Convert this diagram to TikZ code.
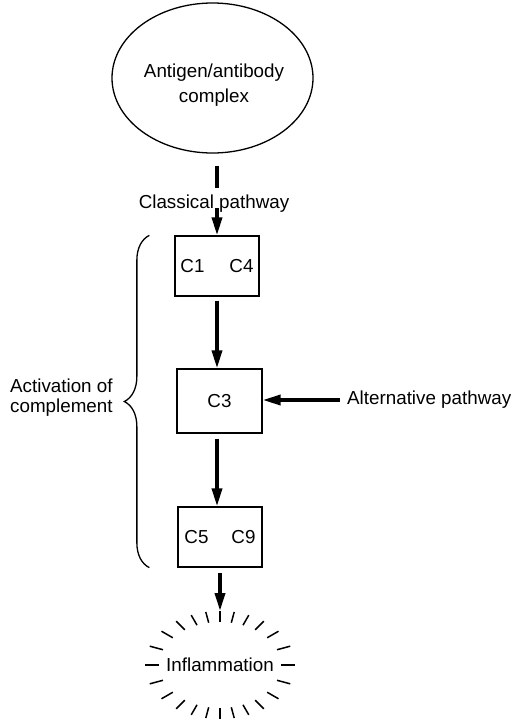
\documentclass[tikz,border=0pt]{standalone}
\usepackage{fontspec}
\setmainfont{Liberation Sans}
\usetikzlibrary{arrows.meta}
\usetikzlibrary{shapes.geometric}
\usetikzlibrary{decorations.pathreplacing}
\tikzset{>={Triangle[length = 18pt, width = 10pt]}}
\tikzstyle{stage} = [draw, line width = 1.3pt, minimum width = 84pt, minimum height = 60pt, inner sep = 0]
\tikzstyle{flow} = [->, line width = 3.5pt]
\tikzstyle{lbl} = [draw = none, inner sep = 0]
\tikzstyle{halo} = [ellipse, draw = none, inner sep = 0, outer sep = 0]

\begin{document}
\begin{tikzpicture}[x = 1pt, y = -1pt, font = \fontsize{18.8}{24.5}\selectfont]
\useasboundingbox (0, 0) rectangle (512, 721);
\node [ellipse, draw, line width = 1.3pt, minimum width = 201pt, minimum height = 150pt, inner sep = 0] (agab) at (212.5, 78) {};
\node [lbl, align = center] (agabtext) at (214, 85) {Antigen/antibody\\complex};
\node [lbl, text depth = 0pt, anchor = base] (classical) at (214, 208) {Classical pathway};
\node [stage] (c14) at (217, 266) {C1\hspace{25pt}C4};
\node [stage, minimum width = 85pt, minimum height = 64pt] (c3) at (219.5, 401) {C3};
\node [stage] (c59) at (220, 537) {C5\hspace{23pt}C9};
\node [lbl, anchor = west] (alt) at (347, 400) {Alternative pathway};
\node [lbl, anchor = west, align = left, font = \fontsize{18.8}{20}\selectfont] (activation) at (10, 398) {Activation of\\complement};
\node [halo, minimum width = 122pt, minimum height = 86pt] (infl) at (220, 665) {};
\node [halo, minimum width = 150pt, minimum height = 108pt] (inflout) at (infl.center) {};
\node [lbl] (infltext) at (infl.center) {Inflammation};
% classical pathway
\draw [line width = 3.5pt, shorten <= 12pt, shorten >= 6pt] (agab.south -| c14.north) -- (classical.north -| c14.north);
\draw [flow] (classical.south -| c14.north) -- (c14.north);
% cascade
\draw [flow, shorten <= 4pt] (c14.south) -- (c14.south |- c3.north);
\draw [flow, shorten <= 5pt] (c14.south |- c3.south) -- (c14.south |- c59.north);
\draw [flow, shorten <= 5pt] (c59.south) -- (inflout.north);
\draw [flow, shorten <= 7pt] (alt.west) -- (alt.west -| c3.east);
% brace
\draw [line width = 1.3pt, decorate, decoration = {brace, amplitude = 25pt}] ([xshift = -28pt] c59.south west) -- ([xshift = -28pt] c59.south west |- c14.north);
% rays
\foreach \a in {0, 15, ..., 345}
  \draw [line width = 1.5pt] (infl.\a) -- (inflout.\a);
\end{tikzpicture}
\end{document}
